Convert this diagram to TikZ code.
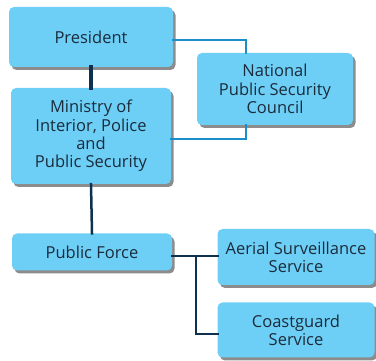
\documentclass[tikz,border=0pt]{standalone}
\usepackage{fontspec}
\setmainfont{Open Sans}
\usetikzlibrary{shadows}
\definecolor{boxblue}{HTML}{6DCFF6}
\definecolor{textnavy}{HTML}{1B2B3B}
\definecolor{linenavy}{HTML}{0E3150}
\definecolor{lineblue}{HTML}{1B8DC8}
\begin{document}
\begin{tikzpicture}[x=1pt,y=-1pt]
\useasboundingbox (0,0) rectangle (376,361);
\begin{scope}[every node/.style={rectangle,rounded corners=5pt,fill=boxblue,
      text=textnavy,align=center,inner sep=0pt,
      font=\fontsize{16.5}{18.3}\selectfont,
      drop shadow={shadow xshift=2.5pt,shadow yshift=-3pt,fill=black,opacity=0.45}}]
    \node[minimum width=164pt,minimum height=60pt] (pres) at (91,37) {President};
    \node[minimum width=156pt,minimum height=72pt] (npsc) at (275,89) {National\\Public Security\\Council};
    \node[minimum width=160pt,minimum height=96pt] (min) at (91,136) {Ministry of\\Interior, Police\\and\\Public Security};
    \node[minimum width=160pt,minimum height=37pt] (pf) at (92,252) {Public Force};
    \node[minimum width=157pt,minimum height=56pt] (air) at (296,257) {Aerial Surveillance\\Service};
    \node[minimum width=157pt,minimum height=55pt] (cg) at (296,330) {Coastguard\\Service};
\end{scope}

\begin{scope}[every path/.style={line cap=rect}]
    \draw [linenavy,line width=3.5pt] (pres.south) -- (min.north);
    \draw [linenavy,line width=2.5pt] (min.south) -- (pf.north);
    \draw [lineblue,line width=2pt] ([yshift=-3]pres.east) -| ([xshift=-29]npsc.north);
    \draw [lineblue,line width=2pt] ([yshift=-3]min.east) -| ([xshift=-29]npsc.south);
    \draw [linenavy,line width=2.5pt] ([yshift=-4]pf.east) -- ([yshift=-4]pf.east -| air.west);
    \draw [linenavy,line width=2.5pt] ([yshift=-4,xshift=24]pf.east) |- ([yshift=-4]cg.west);
\end{scope}
\end{tikzpicture}
\end{document}
